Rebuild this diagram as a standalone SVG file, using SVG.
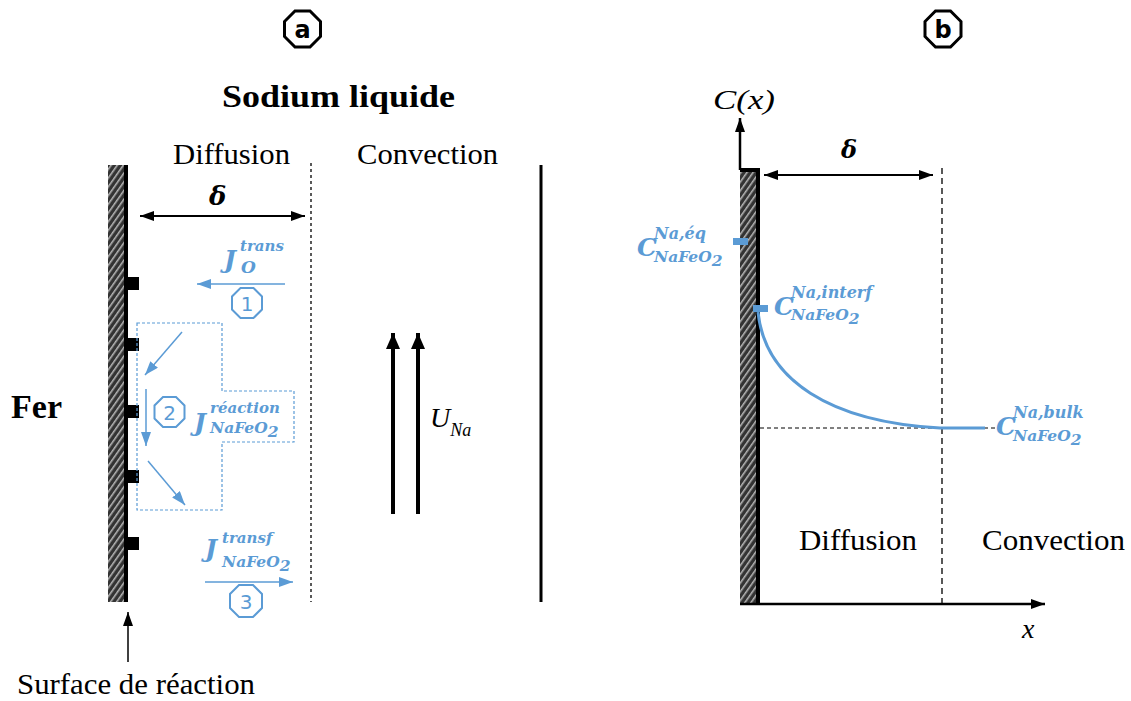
<svg xmlns="http://www.w3.org/2000/svg" width="1131" height="701" viewBox="0 0 1131 701">
<defs>
<pattern id="hatch" patternUnits="userSpaceOnUse" width="5" height="5" patternTransform="rotate(35)">
<rect width="5" height="5" fill="#333"/>
<line x1="0.8" y1="0" x2="0.8" y2="5" stroke="#c4c4c4" stroke-width="1.4"/>
</pattern>
<marker id="ak" viewBox="0 0 14 10" refX="14" refY="5" markerWidth="14" markerHeight="10" markerUnits="userSpaceOnUse" orient="auto-start-reverse">
<path d="M0,0 L14,5 L0,10 Z" fill="#000"/>
</marker>
<marker id="akb" viewBox="0 0 16 14" refX="16" refY="7" markerWidth="16" markerHeight="14" markerUnits="userSpaceOnUse" orient="auto">
<path d="M0,0 L16,7 L0,14 Z" fill="#000"/>
</marker>
<marker id="ab" viewBox="0 0 14 10" refX="14" refY="5" markerWidth="14" markerHeight="10" markerUnits="userSpaceOnUse" orient="auto">
<path d="M0,0 L14,5 L0,10 Z" fill="#5B9BD5"/>
</marker>
</defs>
<style>
.t{font-family:"Liberation Serif","Times New Roman",serif;font-size:30px;fill:#000}
.tb{font-family:"Liberation Serif","Times New Roman",serif;font-weight:bold;fill:#000}
.m{font-family:"DejaVu Serif",serif;font-style:italic;font-weight:bold;fill:#5B9BD5}
.sub{font-size:15.5px}
.mk{font-family:"Liberation Serif","Times New Roman",serif;font-style:italic;fill:#000}
.mkb{font-family:"DejaVu Serif",serif;font-style:italic;font-weight:bold;fill:#000}
.blu{stroke:#5B9BD5;fill:none}
.oct{fill:none;stroke:#5B9BD5;stroke-width:2}
.octk{fill:#fff;stroke:#000;stroke-width:3}
.num{font-family:"DejaVu Sans",sans-serif;font-size:20px;fill:#5B9BD5;text-anchor:middle}
.lab{font-family:"DejaVu Sans",sans-serif;font-weight:bold;font-size:24px;fill:#000;text-anchor:middle}
.ln{stroke:#000;fill:none}
</style>

<!-- Panel a -->
<g id="label-a">
<polygon class="octk" points="320.5,21.5 320.5,36.5 310,47 295,47 284.5,36.5 284.5,21.5 295,11 310,11"/>
<text class="lab" x="302.5" y="38">a</text>
</g>
<g id="wall-a">
<rect x="108" y="165" width="17" height="437" fill="url(#hatch)"/>
<rect x="124" y="165" width="4" height="437" fill="#000"/>
<rect x="127" y="277" width="12" height="13" fill="#000"/>
<rect x="127" y="338" width="12" height="13" fill="#000"/>
<rect x="127" y="405" width="12" height="13" fill="#000"/>
<rect x="127" y="470" width="12" height="13" fill="#000"/>
<rect x="127" y="537" width="12" height="13" fill="#000"/>
</g>
<g id="title-a">
<text class="tb" x="222" y="107" font-size="32" textLength="233" lengthAdjust="spacingAndGlyphs">Sodium liquide</text>
<text class="tb" x="11" y="418" font-size="33" textLength="51" lengthAdjust="spacingAndGlyphs">Fer</text>
<text class="t" x="173" y="164" textLength="117" lengthAdjust="spacingAndGlyphs">Diffusion</text>
<text class="t" x="357" y="164" textLength="141" lengthAdjust="spacingAndGlyphs">Convection</text>
<text class="t" x="17" y="694" textLength="238" lengthAdjust="spacingAndGlyphs">Surface de réaction</text>
</g>
<g id="delta-a">
<text class="mkb" x="209" y="205" font-size="26">δ</text>
</g>
<g id="boundaries-a">
<line class="ln" x1="311" y1="163" x2="311" y2="602" stroke-width="1.3" stroke-dasharray="3,3"/>
<line class="ln" x1="541" y1="165" x2="541" y2="602" stroke-width="3"/>
</g>
<g id="step1">
<text class="m" x="224" y="268" font-size="25">J</text>
<text class="m" x="240" y="251" font-size="15">trans</text>
<text class="m" x="241" y="273" font-size="17">O</text>
<polygon class="oct" points="262,296.5 262,309.5 253.5,318 240.5,318 232,309.5 232,296.5 240.5,288 253.5,288"/>
<text class="num" x="247" y="311">1</text>
</g>
<g id="step2">
<path d="M137,323 H222 V391 H294 V442 H222 V510 H137 Z" class="blu" stroke-width="1.2" stroke-dasharray="3,2"/>
<polygon class="oct" points="184.5,405.5 184.5,418.5 176,427 163,427 154.5,418.5 154.5,405.5 163,397 176,397"/>
<text class="num" x="169.5" y="420">2</text>
<text class="m" x="194" y="431" font-size="25">J</text>
<text class="m" x="210" y="413" font-size="15">réaction</text>
<text class="m sub" x="210" y="433">NaFeO<tspan dy="4">2</tspan></text>
</g>
<g id="step3">
<text class="m" x="205" y="557" font-size="25">J</text>
<text class="m" x="222" y="543" font-size="15">transf</text>
<text class="m sub" x="222" y="567">NaFeO<tspan dy="4">2</tspan></text>
<polygon class="oct" points="262,594 262,608 253,617 239,617 230,608 230,594 239,585 253,585"/>
<text class="num" x="246" y="609">3</text>
</g>
<g id="flow-label">
<text class="mk" x="430" y="427" font-size="28">U<tspan font-size="18" dy="9">Na</tspan></text>
</g>

<!-- Panel b -->
<g id="label-b">
<polygon class="octk" points="961,21.5 961,36.5 950.5,47 935.5,47 925,36.5 925,21.5 935.5,11 950.5,11"/>
<text class="lab" x="943" y="38">b</text>
</g>
<g id="wall-b">
<rect x="740" y="169" width="17" height="435" fill="url(#hatch)"/>
<rect x="756" y="169" width="4" height="435" fill="#000"/>
<rect x="740" y="168" width="20" height="4" fill="#000"/>
</g>
<g id="axes-b">
<text class="mk" x="713" y="109" font-size="28" textLength="62" lengthAdjust="spacingAndGlyphs">C(x)</text>
<text class="mk" x="1022" y="638" font-size="28">x</text>
<text class="mkb" x="841" y="158" font-size="24">δ</text>
<text class="t" x="799" y="550" textLength="118" lengthAdjust="spacingAndGlyphs">Diffusion</text>
<text class="t" x="982" y="550" textLength="143" lengthAdjust="spacingAndGlyphs">Convection</text>
</g>
<g id="profile-b">
<line class="ln" x1="760" y1="428" x2="1000" y2="428" stroke-width="1" stroke-dasharray="4,3"/>
<line class="ln" x1="942" y1="168" x2="942" y2="604" stroke-width="1.3" stroke-dasharray="6,4"/>
<path d="M758,312 C765,380 830,422 940,428 L985,428" class="blu" stroke-width="3"/>
<rect x="733" y="238" width="15" height="7" fill="#5B9BD5"/>
<rect x="753" y="305" width="15" height="7" fill="#5B9BD5"/>
</g>
<g id="c-eq">
<text class="m" x="637" y="256" font-size="25">C</text>
<text class="m" x="654" y="239" font-size="16">Na,éq</text>
<text class="m sub" x="654" y="262">NaFeO<tspan dy="4">2</tspan></text>
</g>
<g id="c-interf">
<text class="m" x="774" y="315" font-size="25">C</text>
<text class="m" x="791" y="298" font-size="16">Na,interf</text>
<text class="m sub" x="791" y="320">NaFeO<tspan dy="4">2</tspan></text>
</g>
<g id="c-bulk">
<text class="m" x="996" y="435" font-size="25">C</text>
<text class="m" x="1013" y="418" font-size="16">Na,bulk</text>
<text class="m sub" x="1013" y="441">NaFeO<tspan dy="4">2</tspan></text>
</g>

<g id="connectors">
<line class="ln" x1="140" y1="216" x2="305" y2="216" stroke-width="2" marker-start="url(#ak)" marker-end="url(#ak)"/>
<line class="blu" x1="285" y1="284" x2="197" y2="284" stroke-width="1.5" marker-end="url(#ab)"/>
<line class="blu" x1="182" y1="332" x2="145" y2="375" stroke-width="1.5" marker-end="url(#ab)"/>
<line class="blu" x1="146" y1="389" x2="146" y2="446" stroke-width="1.5" marker-end="url(#ab)"/>
<line class="blu" x1="148" y1="461" x2="185" y2="505" stroke-width="1.5" marker-end="url(#ab)"/>
<line class="blu" x1="205" y1="582" x2="293" y2="582" stroke-width="1.5" marker-end="url(#ab)"/>
<line class="ln" x1="128" y1="662" x2="128" y2="612" stroke-width="1.5" marker-end="url(#ak)"/>
<line class="ln" x1="393" y1="514" x2="393" y2="333" stroke-width="4" marker-end="url(#akb)"/>
<line class="ln" x1="418" y1="514" x2="418" y2="333" stroke-width="4" marker-end="url(#akb)"/>
<line class="ln" x1="740" y1="170" x2="740" y2="118" stroke-width="2.5" marker-end="url(#ak)"/>
<line class="ln" x1="740" y1="604" x2="1045" y2="604" stroke-width="2.5" marker-end="url(#ak)"/>
<line class="ln" x1="764" y1="175" x2="933" y2="175" stroke-width="2" marker-start="url(#ak)" marker-end="url(#ak)"/>
</g>
</svg>
